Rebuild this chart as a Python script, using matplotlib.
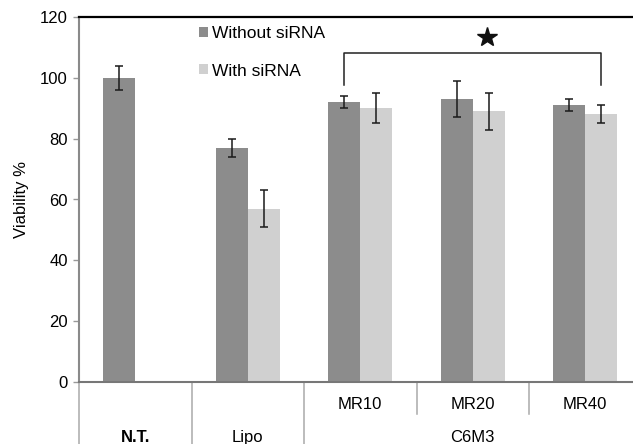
import numpy as np
import matplotlib
matplotlib.use('Agg')
import matplotlib.pyplot as plt
from matplotlib.transforms import blended_transform_factory

plt.rcParams['font.family'] = ['Liberation Sans', 'DejaVu Sans']

# data
categories = ['N.T.', 'Lipo', 'MR10', 'MR20', 'MR40']
without_sirna = [100, 77, 92, 93, 91]
without_err = [4, 3, 2, 6, 2]
with_sirna = [np.nan, 57, 90, 89, 88]
with_err = [np.nan, 6, 5, 6, 3]
group_labels = ['N.T.', 'Lipo', 'C6M3']
yticks = [0, 20, 40, 60, 80, 100, 120]

dark = '#8c8c8c'
light = '#d0d0d0'

fig = plt.figure(figsize=(6.33, 4.44), dpi=100)
ax = fig.add_axes([79 / 633, 62 / 444, 562.5 / 633, 365 / 444])

x = np.arange(len(categories))
w = 0.285
ax.bar(x - w / 2, without_sirna, w, color=dark, label='Without siRNA')
ax.bar(x + w / 2, with_sirna, w, color=light, label='With siRNA')
ax.errorbar(x - w / 2, without_sirna, yerr=without_err, fmt='none',
            ecolor='#1a1a1a', elinewidth=1.1, capsize=3.2, capthick=1.1)
ax.errorbar(x + w / 2, with_sirna, yerr=with_err, fmt='none',
            ecolor='#1a1a1a', elinewidth=1.1, capsize=3.2, capthick=1.1)

ax.set_xlim(-0.5, 4.5)
ax.set_ylim(0, 120)
ax.set_yticks(yticks)
ax.set_xticks([])
ax.tick_params(axis='y', direction='out', length=4, width=1, color='#999999',
               labelsize=12, pad=4)
ax.set_ylabel('Viability %', fontsize=12, labelpad=8)

ax.spines['top'].set_color('black')
ax.spines['top'].set_linewidth(1.6)
ax.spines['left'].set_color('#8a8a8a')
ax.spines['left'].set_linewidth(1.5)
ax.spines['bottom'].set_color('#777777')
ax.spines['bottom'].set_linewidth(1.5)
ax.spines['right'].set_visible(False)

# significance bracket over the C6M3 groups
bx0 = 2 - w / 2
bx1 = 4 + w / 2
ax.plot([bx0, bx0, bx1, bx1], [97.7, 108.3, 108.3, 97.7], color='#222222', lw=1.1,
        clip_on=False)
ax.plot([3.13], [113.3], marker='*', markersize=15, color='#111111', clip_on=False)

# table-like category labels under the axis
trans = blended_transform_factory(ax.transData, ax.transAxes)
for sx in [-0.5, 0.5, 1.5, 4.5]:
    ax.plot([sx, sx], [0, -0.2], color='#aaaaaa', lw=1.1, transform=trans, clip_on=False)
for sx in [2.5, 3.5]:
    ax.plot([sx, sx], [0, -0.088], color='#aaaaaa', lw=1.1, transform=trans, clip_on=False)
for i in range(2, 5):
    ax.text(x[i], -0.063, categories[i], transform=trans, ha='center', va='center',
            fontsize=12)
ax.text(0, -0.153, group_labels[0], transform=trans, ha='center', va='center',
        fontsize=12, fontweight='bold')
ax.text(1, -0.153, group_labels[1], transform=trans, ha='center', va='center',
        fontsize=12)
ax.text(3, -0.153, group_labels[2], transform=trans, ha='center', va='center',
        fontsize=12)

ax.legend(loc='upper left', bbox_to_anchor=(199 / 633, 1 - 26 / 444),
          bbox_transform=fig.transFigure, frameon=False, fontsize=12.5,
          handlelength=0.5, handleheight=0.5, handletextpad=0.25,
          labelspacing=1.3, borderpad=0, borderaxespad=0)

fig.savefig('out.png', dpi=100)
